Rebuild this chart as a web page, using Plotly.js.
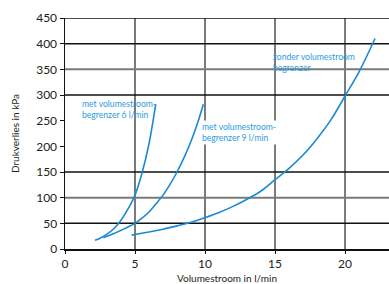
<!DOCTYPE html>
<html><head><meta charset="utf-8">
<script src="https://cdn.plot.ly/plotly-3.0.1.min.js"></script>
<style>html,body{margin:0;padding:0;background:#fff}</style>
</head><body>
<div id="chart" style="width:389px;height:284px"></div>
<script>
// data
const x6 = [2.14, 2.5, 3.0, 3.5, 4.0, 4.5, 5.0, 5.5, 6.0, 6.48];
const y6 = [17, 21, 29, 40, 56, 78, 105, 148, 205, 282];
const x9 = [2.74, 3.5, 4.0, 4.5, 5.0, 5.5, 6.0, 6.5, 7.0, 7.5, 8.0, 8.5, 9.0, 9.5, 9.88];
const y9 = [22, 30, 36.5, 43, 50, 60, 72, 88, 105, 126, 150, 178, 210, 248, 282];
const xNo = [4.76, 6, 7, 8, 9, 10, 11, 12, 13, 14, 15, 16, 17, 18, 19, 20, 21, 22.14];
const yNo = [27, 33, 38.5, 45, 52, 61, 71, 83, 97, 113, 135, 157, 183, 215, 252, 298, 345, 410];
const xTicks = [0, 5, 10, 15, 20];
const yTicks = [0, 50, 100, 150, 200, 250, 300, 350, 400, 450];
const gridBlackY = [50, 150, 300, 400, 450];
const gridGrayY = [100, 350];
const gridGrayX = [5, 10, 15, 20];
const labels = [
  {x: 1.07, y: 272, text: 'met volumestroom-<br>begrenzer 6 l/min', box: false},
  {x: 9.64, y: 226, text: 'met volumestroom-<br>begrenzer 9 l/min', box: true},
  {x: 14.71, y: 364, text: 'zonder volumestroom<br>begrenzer', box: false}
];

const XMAX = 23.14;
const lineColor = '#1a8ad4';
const mk = (x, y) => ({x, y, type: 'scatter', mode: 'lines', line: {color: lineColor, width: 1.6, shape: 'spline', smoothing: 1}, hoverinfo: 'skip'});
const traces = [mk(x6, y6), mk(x9, y9), mk(xNo, yNo)];

const shapes = [];
gridGrayX.forEach(v => shapes.push({type: 'line', xref: 'x', yref: 'y', x0: v, x1: v, y0: 0, y1: 450, line: {color: '#7a7a7a', width: 2}, layer: 'below'}));
gridGrayY.forEach(v => shapes.push({type: 'line', xref: 'x', yref: 'y', x0: 0, x1: XMAX, y0: v, y1: v, line: {color: '#7a7a7a', width: 2}, layer: 'below'}));
gridBlackY.forEach(v => shapes.push({type: 'line', xref: 'x', yref: 'y', x0: 0, x1: XMAX, y0: v, y1: v, line: {color: '#111', width: 1.5}, layer: 'below'}));

const annotations = labels.map(l => ({
  x: l.x, y: l.y, xref: 'x', yref: 'y', text: l.text, showarrow: false,
  xanchor: 'left', yanchor: 'middle', align: 'left',
  font: {family: 'Lato, sans-serif', size: 8.6, color: '#2a9de0'},
  bgcolor: l.box ? '#ffffff' : 'rgba(0,0,0,0)', borderpad: 1
}));

const axisFont = {family: 'Lato, sans-serif', size: 12, color: '#222'};
const layout = {
  width: 389, height: 284,
  margin: {l: 65, r: 0, t: 18, b: 35},
  paper_bgcolor: '#fff', plot_bgcolor: '#fff',
  showlegend: false,
  xaxis: {
    range: [0, XMAX], tickvals: xTicks, ticktext: xTicks.map(String),
    showgrid: false, zeroline: false, showline: true, linecolor: '#111', linewidth: 2,
    ticks: 'outside', ticklen: 3, tickcolor: '#111', tickfont: axisFont,
    title: {text: 'Volumestroom in l/min', font: {family: 'Lato, sans-serif', size: 10, color: '#222'}, standoff: 7},
    fixedrange: true
  },
  yaxis: {
    range: [0, 450], tickvals: yTicks, ticktext: yTicks.map(String),
    showgrid: false, zeroline: false, showline: true, linecolor: '#111', linewidth: 1.5,
    ticks: 'outside', ticklen: 4, tickcolor: '#111', tickfont: axisFont,
    title: {text: 'Drukverlies in kPa', font: {family: 'Lato, sans-serif', size: 10, color: '#222'}, standoff: 14},
    fixedrange: true
  },
  shapes, annotations
};
Plotly.newPlot('chart', traces, layout, {displayModeBar: false, staticPlot: true});
</script>
</body></html>
